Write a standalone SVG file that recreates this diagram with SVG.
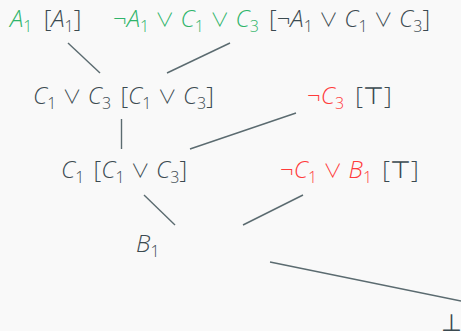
<svg xmlns="http://www.w3.org/2000/svg" width="461" height="331" viewBox="0 0 461 331">
<style>
text{font-family:"Open Sans","Noto Sans","DejaVu Sans",sans-serif;font-weight:300;font-size:24px;fill:#3b4a50}
.g{fill:#2fb46a}
.r{fill:#ff3b3b}
.i{font-style:italic}
.s{font-size:16px}
.v{font-family:"Noto Sans CJK JP","DejaVu Sans",sans-serif;font-weight:300;font-size:19px}
.e{stroke:#5b6b70;stroke-width:1.4;fill:none}
</style>
<rect width="461" height="331" fill="#f9f9f9"/>
<g id="connectors">
<line class="e" x1="68" y1="43" x2="100" y2="73"/>
<line class="e" x1="230" y1="43" x2="167" y2="73"/>
<line class="e" x1="121.5" y1="119" x2="121.5" y2="149"/>
<line class="e" x1="190" y1="149" x2="296" y2="113"/>
<line class="e" x1="144" y1="195" x2="175" y2="225"/>
<line class="e" x1="243" y1="225" x2="303" y2="195"/>
<line class="e" x1="270" y1="262" x2="461" y2="301"/>
</g>
<g id="n-a1">
<text x="10" y="27"><tspan class="g i">A</tspan><tspan class="g s" dy="5">1</tspan><tspan dy="-5" dx="5"> [</tspan><tspan class="i">A</tspan><tspan class="s" dy="5">1</tspan><tspan dy="-5">]</tspan></text>
</g>
<g id="n-clause">
<text x="113" y="27"><tspan class="g">¬</tspan><tspan class="g i">A</tspan><tspan class="g s" dy="5">1</tspan><tspan class="g" dy="-5"> </tspan><tspan class="g v">∨</tspan><tspan class="g"> </tspan><tspan class="g i">C</tspan><tspan class="g s" dy="5">1</tspan><tspan class="g" dy="-5"> </tspan><tspan class="g v">∨</tspan><tspan class="g"> </tspan><tspan class="g i">C</tspan><tspan class="g s" dy="5">3</tspan><tspan dy="-5" dx="4"> [¬</tspan><tspan class="i">A</tspan><tspan class="s" dy="5">1</tspan><tspan dy="-5"> </tspan><tspan class="v">∨</tspan><tspan> </tspan><tspan class="i">C</tspan><tspan class="s" dy="5">1</tspan><tspan dy="-5"> </tspan><tspan class="v">∨</tspan><tspan> </tspan><tspan class="i">C</tspan><tspan class="s" dy="5">3</tspan><tspan dy="-5">]</tspan></text>
</g>
<g id="n-c1c3">
<text x="33" y="104"><tspan class="i">C</tspan><tspan class="s" dy="5">1</tspan><tspan dy="-5"> </tspan><tspan class="v">∨</tspan><tspan> </tspan><tspan class="i">C</tspan><tspan class="s" dy="5">3</tspan><tspan dy="-5" dx="3"> [</tspan><tspan class="i">C</tspan><tspan class="s" dy="5">1</tspan><tspan dy="-5"> </tspan><tspan class="v">∨</tspan><tspan> </tspan><tspan class="i">C</tspan><tspan class="s" dy="5">3</tspan><tspan dy="-5">]</tspan></text>
</g>
<g id="n-notc3">
<text x="307" y="104"><tspan class="r">¬</tspan><tspan class="r i">C</tspan><tspan class="r s" dy="5">3</tspan><tspan dy="-5" dx="5"> [⊤]</tspan></text>
</g>
<g id="n-c1">
<text x="61" y="178"><tspan class="i">C</tspan><tspan class="s" dy="5">1</tspan><tspan dy="-5" dx="3"> [</tspan><tspan class="i">C</tspan><tspan class="s" dy="5">1</tspan><tspan dy="-5"> </tspan><tspan class="v">∨</tspan><tspan> </tspan><tspan class="i">C</tspan><tspan class="s" dy="5">3</tspan><tspan dy="-5">]</tspan></text>
</g>
<g id="n-notc1b1">
<text x="280" y="178"><tspan class="r">¬</tspan><tspan class="r i">C</tspan><tspan class="r s" dy="5">1</tspan><tspan class="r" dy="-5"> </tspan><tspan class="r v">∨</tspan><tspan class="r"> </tspan><tspan class="r i">B</tspan><tspan class="r s" dy="5">1</tspan><tspan dy="-5" dx="4"> [⊤]</tspan></text>
</g>
<g id="n-b1">
<text x="136" y="252"><tspan class="i">B</tspan><tspan class="s" dy="5">1</tspan></text>
</g>
<g id="n-bot">
<text x="441" y="331">⊥</text>
</g>
</svg>
